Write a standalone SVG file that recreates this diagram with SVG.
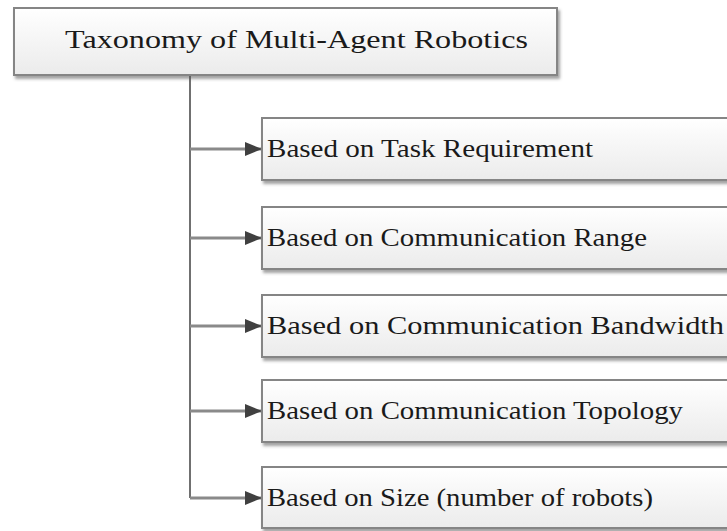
<svg xmlns="http://www.w3.org/2000/svg" width="727" height="531" viewBox="0 0 727 531">
  <defs>
    <linearGradient id="boxfill" x1="0" y1="0" x2="0" y2="1">
      <stop offset="0" stop-color="#ffffff"/>
      <stop offset="1" stop-color="#ebebeb"/>
    </linearGradient>
    <filter id="shadow" x="-5%" y="-20%" width="110%" height="150%">
      <feDropShadow dx="2" dy="3" stdDeviation="1.5" flood-color="#555555" flood-opacity="0.55"/>
    </filter>
    <marker id="arrow" viewBox="0 0 17 14" refX="17" refY="7" markerWidth="17" markerHeight="14" markerUnits="userSpaceOnUse" orient="auto">
      <path d="M0,0 L17,7 L0,14 Z" fill="#404040"/>
    </marker>
    <style>
      .box { fill: url(#boxfill); stroke: #858585; stroke-width: 2; filter: url(#shadow); }
      .lbl { font-family: "Liberation Serif", "Times New Roman", serif; font-size: 26px; fill: #1a1a1a; }
      .conn { fill: none; stroke: #8a8a8a; stroke-width: 3; }
      .trunk { fill: none; stroke: #707070; stroke-width: 2; }
    </style>
  </defs>
  <rect width="727" height="531" fill="#ffffff"/>

  <g id="connectors">
    <path class="trunk" d="M190,76 V498"/>
    <path class="conn" d="M190,149 H262" marker-end="url(#arrow)"/>
    <path class="conn" d="M190,238 H262" marker-end="url(#arrow)"/>
    <path class="conn" d="M190,326 H262" marker-end="url(#arrow)"/>
    <path class="conn" d="M190,411 H262" marker-end="url(#arrow)"/>
    <path class="conn" d="M190,498 H262" marker-end="url(#arrow)"/>
  </g>

  <g id="root">
    <rect class="box" x="14" y="8" width="543" height="67"/>
    <text class="lbl" x="65" y="48" textLength="463" lengthAdjust="spacingAndGlyphs">Taxonomy of Multi-Agent Robotics</text>
  </g>

  <g id="task">
    <rect class="box" x="262" y="118" width="480" height="62"/>
    <text class="lbl" x="267" y="157" textLength="326" lengthAdjust="spacingAndGlyphs">Based on Task Requirement</text>
  </g>

  <g id="range">
    <rect class="box" x="262" y="207" width="480" height="62"/>
    <text class="lbl" x="267" y="246" textLength="380" lengthAdjust="spacingAndGlyphs">Based on Communication Range</text>
  </g>

  <g id="bandwidth">
    <rect class="box" x="262" y="295" width="480" height="62"/>
    <text class="lbl" x="267" y="334" textLength="457" lengthAdjust="spacingAndGlyphs">Based on Communication Bandwidth</text>
  </g>

  <g id="topology">
    <rect class="box" x="262" y="380" width="480" height="62"/>
    <text class="lbl" x="267" y="419" textLength="416" lengthAdjust="spacingAndGlyphs">Based on Communication Topology</text>
  </g>

  <g id="size">
    <rect class="box" x="262" y="467" width="480" height="61"/>
    <text class="lbl" x="267" y="506" textLength="386" lengthAdjust="spacingAndGlyphs">Based on Size (number of robots)</text>
  </g>
</svg>
